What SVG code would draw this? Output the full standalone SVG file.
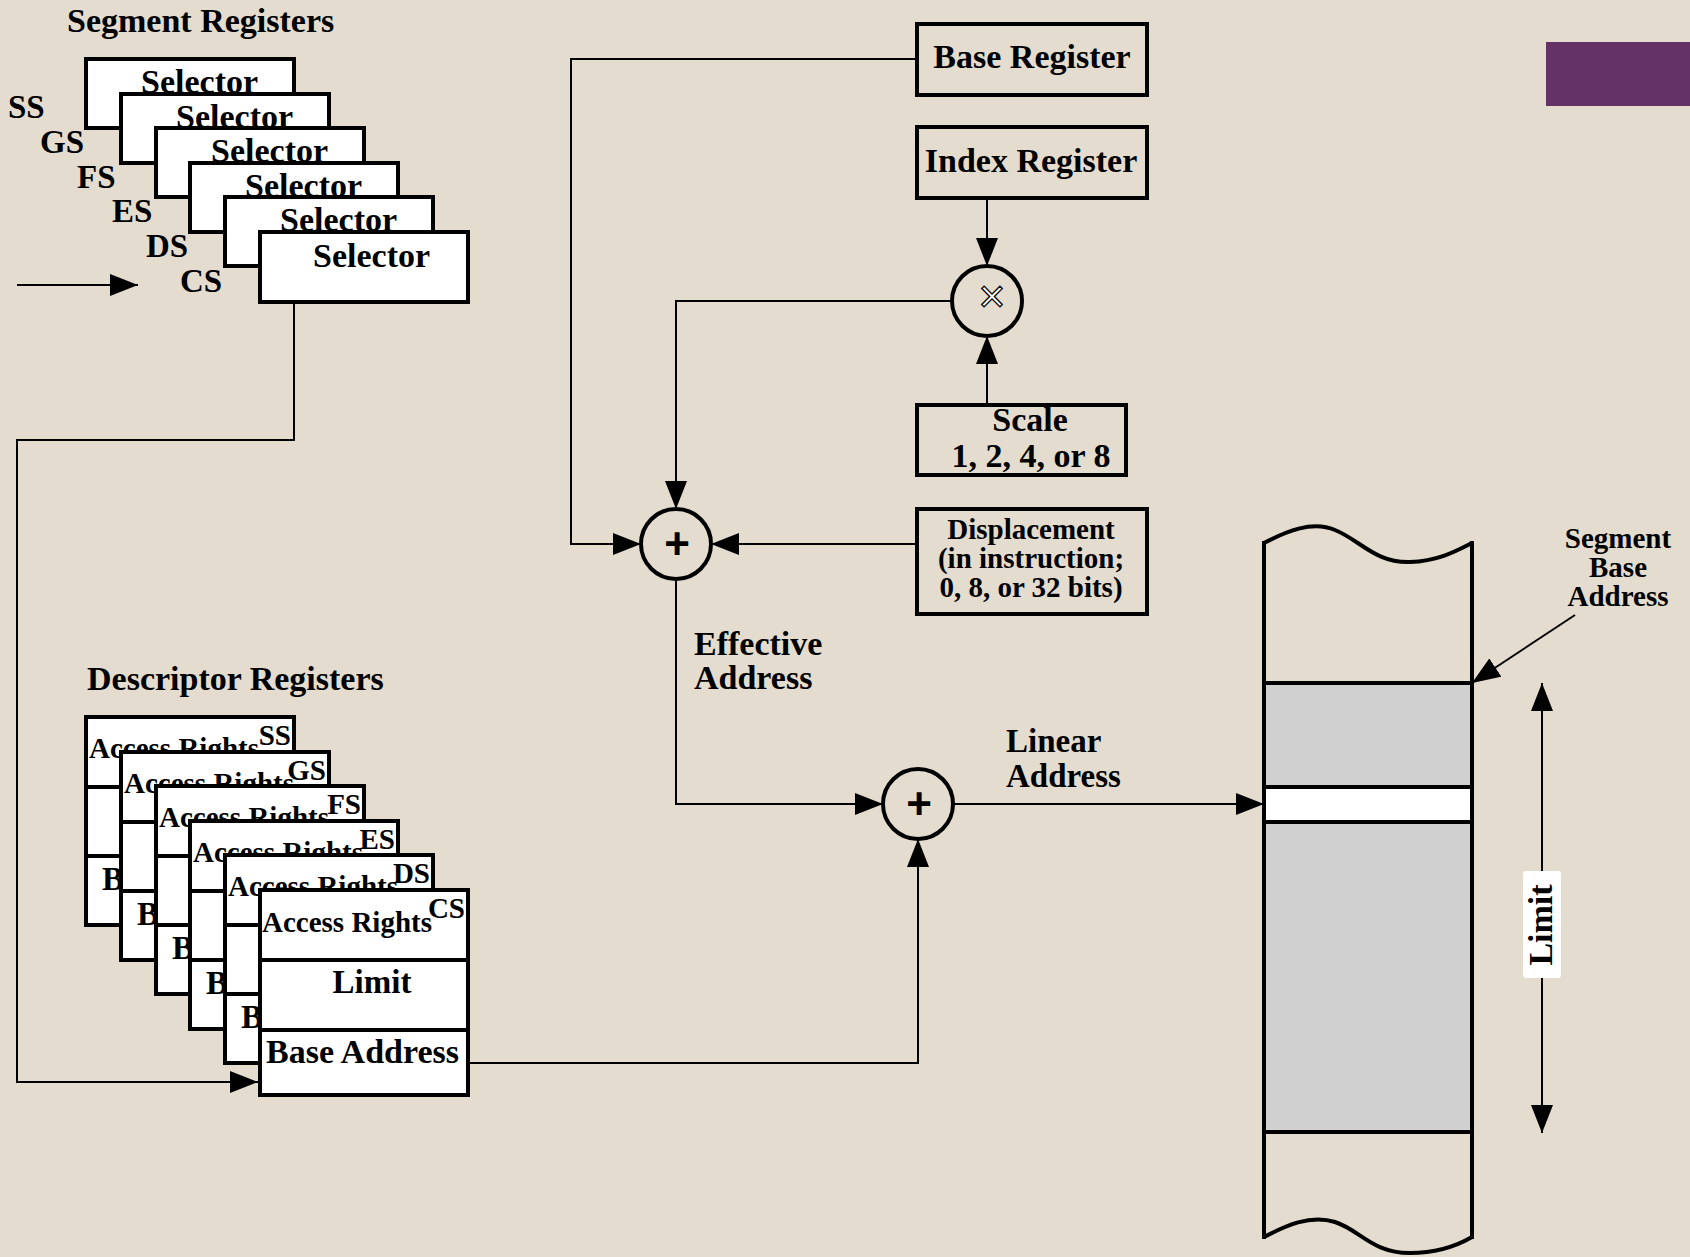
<svg xmlns="http://www.w3.org/2000/svg" width="1690" height="1257" viewBox="0 0 1690 1257">
<style>
.t{font-family:"Liberation Serif","Times New Roman",serif;font-weight:bold;fill:#000}
.box{fill:#fff;stroke:#000;stroke-width:4}
.frame{fill:none;stroke:#000;stroke-width:4}
.ln{fill:none;stroke:#000;stroke-width:2}
.sum{fill:none;stroke:#000;stroke-width:4}
.plus{font-family:"Liberation Sans",Arial,sans-serif;font-weight:bold;font-size:44px;fill:#000}
</style>
<defs>
<marker id="ah" markerUnits="userSpaceOnUse" markerWidth="28" markerHeight="22" refX="28" refY="11" orient="auto-start-reverse">
<path d="M0,0 L28,11 L0,22 z" fill="#000"/>
</marker>
</defs>
<rect width="1690" height="1257" fill="#e4dccf"/>
<rect x="1546" y="42" width="144" height="64" fill="#653265"/>

<g id="segment-registers">
<text class="t" x="67" y="32" font-size="34">Segment Registers</text>
<text class="t" x="8" y="118" font-size="33">SS</text>
<text class="t" x="40" y="153" font-size="33">GS</text>
<text class="t" x="77" y="188" font-size="33">FS</text>
<text class="t" x="112" y="222" font-size="33">ES</text>
<text class="t" x="146" y="257" font-size="33">DS</text>
<text class="t" x="180" y="292" font-size="33">CS</text>
<g id="sel-ss"><rect class="box" x="86" y="59" width="208" height="69"/><text class="t" x="141" y="93" font-size="34">Selector</text></g>
<g id="sel-gs"><rect class="box" x="121" y="94" width="208" height="69"/><text class="t" x="176" y="128" font-size="34">Selector</text></g>
<g id="sel-fs"><rect class="box" x="156" y="128" width="208" height="69"/><text class="t" x="211" y="162" font-size="34">Selector</text></g>
<g id="sel-es"><rect class="box" x="190" y="163" width="208" height="69"/><text class="t" x="245" y="197" font-size="34">Selector</text></g>
<g id="sel-ds"><rect class="box" x="225" y="197" width="208" height="69"/><text class="t" x="280" y="231" font-size="34">Selector</text></g>
<g id="sel-cs"><rect class="box" x="260" y="232" width="208" height="70"/><text class="t" x="313" y="267" font-size="34">Selector</text></g>
</g>

<g id="descriptor-registers">
<text class="t" x="87" y="690" font-size="34">Descriptor Registers</text>
<g id="desc-ss">
<rect class="box" x="86" y="717" width="208" height="208"/>
<line class="frame" x1="86" y1="787" x2="294" y2="787"/><line class="frame" x1="86" y1="856" x2="294" y2="856"/>
<text class="t" x="89" y="758" font-size="29">Access Rights</text>
<text class="t" x="291" y="745" font-size="29" text-anchor="end">SS</text>
<text class="t" x="102" y="890" font-size="33">Base Address</text>
</g>
<g id="desc-gs">
<rect class="box" x="121" y="752" width="208" height="208"/>
<line class="frame" x1="121" y1="822" x2="329" y2="822"/><line class="frame" x1="121" y1="891" x2="329" y2="891"/>
<text class="t" x="124" y="793" font-size="29">Access Rights</text>
<text class="t" x="326" y="780" font-size="29" text-anchor="end">GS</text>
<text class="t" x="137" y="925" font-size="33">Base Address</text>
</g>
<g id="desc-fs">
<rect class="box" x="156" y="786" width="208" height="208"/>
<line class="frame" x1="156" y1="856" x2="364" y2="856"/><line class="frame" x1="156" y1="925" x2="364" y2="925"/>
<text class="t" x="159" y="827" font-size="29">Access Rights</text>
<text class="t" x="361" y="814" font-size="29" text-anchor="end">FS</text>
<text class="t" x="172" y="959" font-size="33">Base Address</text>
</g>
<g id="desc-es">
<rect class="box" x="190" y="821" width="208" height="208"/>
<line class="frame" x1="190" y1="891" x2="398" y2="891"/><line class="frame" x1="190" y1="960" x2="398" y2="960"/>
<text class="t" x="193" y="862" font-size="29">Access Rights</text>
<text class="t" x="395" y="849" font-size="29" text-anchor="end">ES</text>
<text class="t" x="206" y="994" font-size="33">Base Address</text>
</g>
<g id="desc-ds">
<rect class="box" x="225" y="855" width="208" height="208"/>
<line class="frame" x1="225" y1="925" x2="433" y2="925"/><line class="frame" x1="225" y1="994" x2="433" y2="994"/>
<text class="t" x="228" y="896" font-size="29">Access Rights</text>
<text class="t" x="430" y="883" font-size="29" text-anchor="end">DS</text>
<text class="t" x="241" y="1028" font-size="33">Base Address</text>
</g>
<g id="desc-cs">
<rect class="box" x="260" y="890" width="208" height="205"/>
<line class="frame" x1="260" y1="960" x2="468" y2="960"/><line class="frame" x1="260" y1="1030" x2="468" y2="1030"/>
<text class="t" x="262" y="932" font-size="29">Access Rights</text>
<text class="t" x="465" y="918" font-size="29" text-anchor="end">CS</text>
<text class="t" x="372" y="993" font-size="33" text-anchor="middle">Limit</text>
<text class="t" x="266" y="1063" font-size="34">Base Address</text>
</g>
</g>

<g id="base-register"><rect class="box" x="917" y="24" width="230" height="71" style="fill:none"/><text class="t" x="1032" y="68" font-size="34" text-anchor="middle">Base Register</text></g>
<g id="index-register"><rect class="box" x="917" y="127" width="230" height="71" style="fill:none"/><text class="t" x="1031" y="172" font-size="34" text-anchor="middle">Index Register</text></g>
<g id="multiply"><circle class="sum" cx="987" cy="301" r="35"/><text x="992" y="312" font-family="Liberation Sans,Arial,sans-serif" font-size="46" text-anchor="middle" fill="#fff" stroke="#000" stroke-width="1.3">×</text></g>
<g id="scale"><rect class="box" x="917" y="405" width="209" height="70" style="fill:none"/><text class="t" x="1030" y="431" font-size="34" text-anchor="middle">Scale</text><text class="t" x="1031" y="467" font-size="34" text-anchor="middle">1, 2, 4, or 8</text></g>
<g id="displacement"><rect class="box" x="917" y="509" width="230" height="105" style="fill:none"/>
<text class="t" x="1031" y="539" font-size="29" text-anchor="middle">Displacement</text>
<text class="t" x="1031" y="568" font-size="29" text-anchor="middle">(in instruction;</text>
<text class="t" x="1031" y="597" font-size="29" text-anchor="middle">0, 8, or 32 bits)</text></g>
<g id="adder1"><circle class="sum" cx="676" cy="544" r="35"/><text class="plus" x="677" y="559" text-anchor="middle">+</text></g>
<g id="adder2"><circle class="sum" cx="918" cy="804" r="35"/><text class="plus" x="919" y="819" text-anchor="middle">+</text></g>
<g id="labels">
<text class="t" x="694" y="655" font-size="34">Effective</text>
<text class="t" x="694" y="689" font-size="34">Address</text>
<text class="t" x="1006" y="752" font-size="33">Linear</text>
<text class="t" x="1006" y="787" font-size="33">Address</text>
</g>

<g id="memory">
<rect x="1264" y="683" width="208" height="449" fill="#d0d0d0"/>
<rect x="1264" y="787" width="208" height="35" fill="#fff"/>
<path class="frame" d="M1264,543 C1285,532 1312,520 1335,530 C1360,540 1375,563 1410,562 C1440,561 1460,549 1472,543"/>
<path class="frame" d="M1264,1237 C1285,1226 1310,1214 1335,1222 C1360,1230 1372,1253 1410,1253 C1440,1253 1460,1244 1472,1237"/>
<line class="frame" x1="1264" y1="541" x2="1264" y2="1239"/>
<line class="frame" x1="1472" y1="541" x2="1472" y2="1239"/>
<line class="frame" x1="1264" y1="683" x2="1472" y2="683"/>
<line class="frame" x1="1264" y1="787" x2="1472" y2="787"/>
<line class="frame" x1="1264" y1="822" x2="1472" y2="822"/>
<line class="frame" x1="1264" y1="1132" x2="1472" y2="1132"/>
<text class="t" x="1618" y="548" font-size="29" text-anchor="middle">Segment</text>
<text class="t" x="1618" y="577" font-size="29" text-anchor="middle">Base</text>
<text class="t" x="1618" y="606" font-size="29" text-anchor="middle">Address</text>
<line class="ln" x1="1542" y1="683" x2="1542" y2="1133" marker-start="url(#ah)" marker-end="url(#ah)"/>
<rect x="1523" y="871" width="38" height="107" rx="3" fill="#fff"/>
<text class="t" font-size="34" text-anchor="middle" transform="translate(1552,925) rotate(-90)">Limit</text>
</g>

<g id="connectors">
<line class="ln" x1="17" y1="285" x2="138" y2="285" marker-end="url(#ah)"/>
<polyline class="ln" points="294,302 294,440 17,440 17,1082 258,1082" marker-end="url(#ah)"/>
<polyline class="ln" points="917,59 571,59 571,544 641,544" marker-end="url(#ah)"/>
<line class="ln" x1="987" y1="198" x2="987" y2="266" marker-end="url(#ah)"/>
<line class="ln" x1="987" y1="405" x2="987" y2="336" marker-end="url(#ah)"/>
<polyline class="ln" points="952,301 676,301 676,509" marker-end="url(#ah)"/>
<line class="ln" x1="917" y1="544" x2="711" y2="544" marker-end="url(#ah)"/>
<polyline class="ln" points="676,579 676,804 883,804" marker-end="url(#ah)"/>
<polyline class="ln" points="468,1063 918,1063 918,839" marker-end="url(#ah)"/>
<line class="ln" x1="953" y1="804" x2="1264" y2="804" marker-end="url(#ah)"/>
<line class="ln" x1="1575" y1="615" x2="1472" y2="683" marker-end="url(#ah)"/>
</g>
</svg>
